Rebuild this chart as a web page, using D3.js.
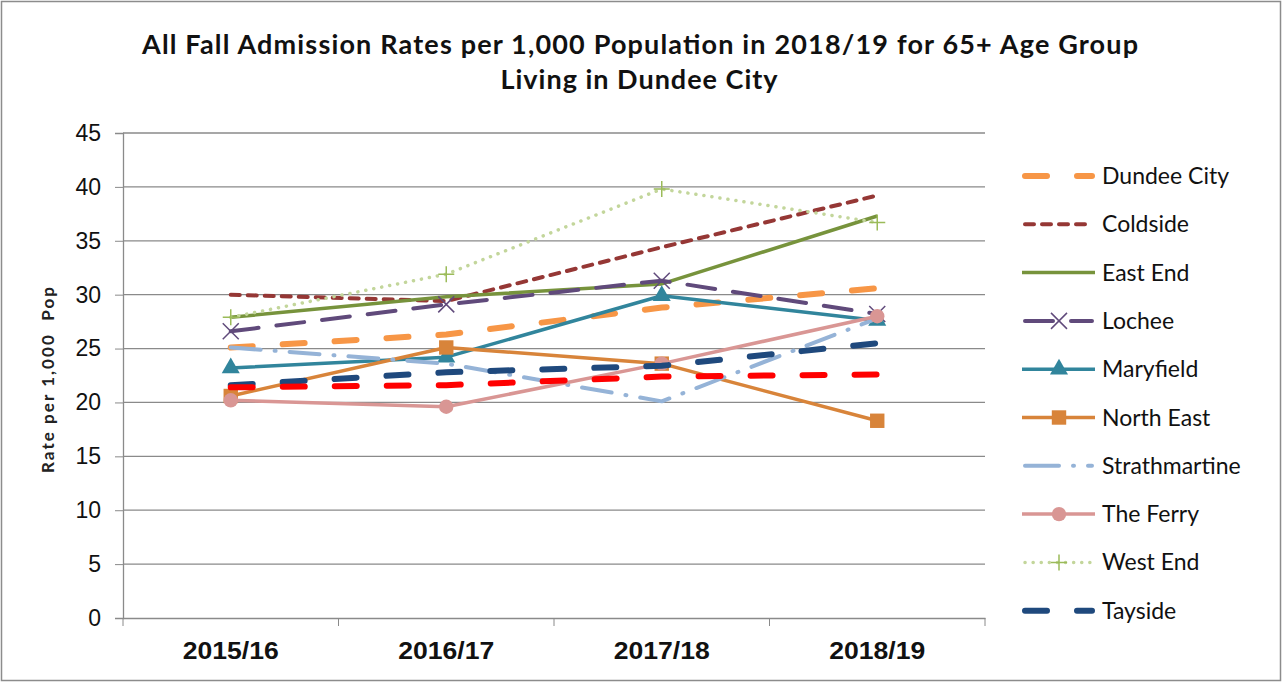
<!DOCTYPE html>
<html>
<head>
<meta charset="utf-8">
<script src="https://cdn.jsdelivr.net/npm/d3@7"></script>
<style>
  body { margin: 0; background: #fff; }
  svg { display: block; font-family: Lato, "Open Sans", sans-serif; }
</style>
</head>
<body>
<div class="vis-line"></div>
<script>
// values
const years = ["2015/16", "2016/17", "2017/18", "2018/19"];
const yTicks = [0, 5, 10, 15, 20, 25, 30, 35, 40, 45];

const dundeeCity    = [25.1, 26.3, 28.8, 30.6];
const coldside      = [30.0, 29.4, 34.4, 39.2];
const eastEnd       = [27.9, 29.8, 31.0, 37.3];
const lochee        = [26.6, 29.1, 31.3, 28.2];
const maryfield     = [23.2, 24.2, 29.9, 27.6];
const northEast     = [20.6, 25.1, 23.6, 18.3];
const strathmartine = [25.1, 23.6, 20.1, 27.8];
const theFerry      = [20.2, 19.6, 23.6, 28.0];
const westEnd       = [27.9, 31.9, 39.8, 36.7];
const tayside       = [21.6, 22.8, 23.4, 25.5];
const scotland      = [21.4, 21.6, 22.4, 22.6]; // red line, not in the legend

const draw = () => {
    const W = 1282, H = 682;
    const margin = {top: 133, right: 297, bottom: 64, left: 123};
    const width = W - margin.left - margin.right;
    const height = H - margin.top - margin.bottom;

    const svg = d3.select('.vis-line').append('svg')
        .attr('width', W).attr('height', H);

    svg.append('rect')
        .attr('x', 1.5).attr('y', 1.5).attr('width', W - 3).attr('height', H - 3)
        .attr('fill', '#fff').attr('stroke', '#8c8c8c').attr('stroke-width', 1.5);

    // title
    const title = svg.append('text')
        .attr('text-anchor', 'middle')
        .attr('font-weight', 'bold').attr('font-size', 27).attr('fill', '#111');
    title.append('tspan').attr('x', 640).attr('y', 54)
        .attr('textLength', 996).attr('lengthAdjust', 'spacing')
        .text("All Fall Admission Rates per 1,000 Population in 2018/19 for 65+ Age Group");
    title.append('tspan').attr('x', 639).attr('y', 89)
        .attr('textLength', 277).attr('lengthAdjust', 'spacing')
        .text("Living in Dundee City");

    const x = d3.scaleBand().domain(years).range([0, width]);
    const y = d3.scaleLinear().domain([0, 45]).range([height, 0]);
    const cx = d => x(d) + x.bandwidth() / 2;

    const g = svg.append('g').attr('transform', `translate(${margin.left},${margin.top})`);

    // grid
    g.append('g').selectAll('line').data(yTicks.filter(d => d > 0)).join('line')
        .attr('x1', 0).attr('x2', width)
        .attr('y1', d => y(d)).attr('y2', d => y(d))
        .attr('stroke', '#8a8a8a').attr('stroke-width', 1.3);

    const yAxis = g.append('g')
        .call(d3.axisLeft(y).tickValues(yTicks).tickSize(8).tickPadding(14));
    yAxis.select('.domain').attr('stroke', '#8a8a8a').attr('stroke-width', 1.3);
    yAxis.selectAll('.tick line').attr('stroke', '#8a8a8a');
    yAxis.selectAll('text').attr('font-size', 23).attr('fill', '#111')
        .attr('font-family', '"Liberation Sans", sans-serif');

    const xAxis = g.append('g').attr('transform', `translate(0,${height})`)
        .call(d3.axisBottom(x).tickSize(0).tickPadding(24));
    xAxis.select('.domain').attr('stroke', '#8a8a8a').attr('stroke-width', 1.3);
    xAxis.selectAll('text').attr('font-size', 24).attr('font-weight', 'bold').attr('fill', '#111')
        .attr('font-family', '"Liberation Sans", sans-serif')
        .attr('textLength', 96).attr('lengthAdjust', 'spacingAndGlyphs');
    xAxis.append('g').selectAll('line').data(d3.range(years.length + 1)).join('line')
        .attr('x1', i => i * x.bandwidth()).attr('x2', i => i * x.bandwidth())
        .attr('y1', 0).attr('y2', 8).attr('stroke', '#8a8a8a');

    svg.append('text')
        .attr('transform', 'translate(54,380) rotate(-90)')
        .attr('text-anchor', 'middle').attr('font-size', 17).attr('font-weight', 'bold')
        .attr('fill', '#222').attr('xml:space', 'preserve')
        .attr('textLength', 186).attr('lengthAdjust', 'spacing')
        .text("Rate per 1,000  Pop");

    const series = [
        {name: "Dundee City", values: dundeeCity, color: "#F79646", w: 6, dash: "22,30", cap: "round"},
        {name: "Coldside", values: coldside, color: "#953735", w: 4, dash: "9,8", cap: "round"},
        {name: "East End", values: eastEnd, color: "#77933C", w: 3.5, dash: null},
        {name: "Lochee", values: lochee, color: "#604A7B", w: 4, dash: "28,18", cap: "round", marker: "x"},
        {name: "Maryfield", values: maryfield, color: "#31859C", w: 3.5, dash: null, marker: "tri"},
        {name: "North East", values: northEast, color: "#D8843A", w: 3.5, dash: null, marker: "sq"},
        {name: "Strathmartine", values: strathmartine, color: "#95B3D7", w: 4, dash: "30,14,1,14", cap: "round"},
        {name: "The Ferry", values: theFerry, color: "#D99694", w: 3.5, dash: null, marker: "circle"},
        {name: "West End", values: westEnd, color: "#C3D69B", w: 3.5, dash: "0.1,8", cap: "round", marker: "plus"},
        {name: "Tayside", values: tayside, color: "#1F497D", w: 6, dash: "22,30", cap: "round"},
        {name: "Scotland", values: scotland, color: "#FF0000", w: 6, dash: "22,30", cap: "round", noLegend: true}
    ];

    const line = d3.line().x((d, i) => cx(years[i])).y(d => y(d));

    const drawMarker = (sel, s, size) => {
        const c = s.color;
        if (s.marker === "x") {
            sel.append('path').attr('d', `M${-size},${-size}L${size},${size}M${-size},${size}L${size},${-size}`)
                .attr('stroke', c).attr('stroke-width', 1.5).attr('fill', 'none');
        } else if (s.marker === "plus") {
            sel.append('path').attr('d', `M${-size},0L${size},0M0,${-size}L0,${size}`)
                .attr('stroke', '#9BBB59').attr('stroke-width', 1.5).attr('fill', 'none');
        } else if (s.marker === "tri") {
            sel.append('path').attr('d', d3.symbol(d3.symbolTriangle, size * size * 2.2)).attr('fill', c);
        } else if (s.marker === "sq") {
            sel.append('rect').attr('x', -size * 0.9).attr('y', -size * 0.9)
                .attr('width', size * 1.8).attr('height', size * 1.8).attr('fill', c);
        } else if (s.marker === "circle") {
            sel.append('circle').attr('r', size * 0.9).attr('fill', c);
        }
    };

    const plot = g.append('g');
    series.forEach(s => {
        plot.append('path').datum(s.values)
            .attr('d', line)
            .attr('fill', 'none').attr('stroke', s.color).attr('stroke-width', s.w)
            .attr('stroke-dasharray', s.dash).attr('stroke-linecap', s.cap || 'butt')
            .attr('stroke-linejoin', 'round');
        if (s.marker) {
            s.values.forEach((v, i) => {
                const m = plot.append('g').attr('transform', `translate(${cx(years[i])},${y(v)})`);
                drawMarker(m, s, 8);
            });
        }
    });

    // legend
    const legend = svg.append('g').attr('transform', 'translate(1022,176)');
    const items = legend.selectAll('g').data(series.filter(s => !s.noLegend)).join('g')
        .attr('transform', (d, i) => `translate(0,${i * 48.3})`);
    items.append('line')
        .attr('x1', d => d.cap === 'round' ? 3 : 0).attr('x2', d => d.cap === 'round' ? 70 : 73)
        .attr('stroke', d => d.color).attr('stroke-width', d => d.w)
        .attr('stroke-dasharray', d => d.name === "Dundee City" || d.name === "Tayside" ? "22,30" :
            d.name === "Coldside" ? "9,8" : d.name === "Lochee" ? "28,18" :
            d.name === "Strathmartine" ? "34,14,1,14" : d.dash)
        .attr('stroke-linecap', d => d.cap || 'butt');
    items.each(function(d) {
        if (d.marker) drawMarker(d3.select(this).append('g').attr('transform', 'translate(37,0)'), d, 8);
    });
    items.append('text').attr('x', 80).attr('dy', '0.35em')
        .attr('font-size', 23).attr('fill', '#111')
        .text(d => d.name);
};

draw();
</script>
</body>
</html>
